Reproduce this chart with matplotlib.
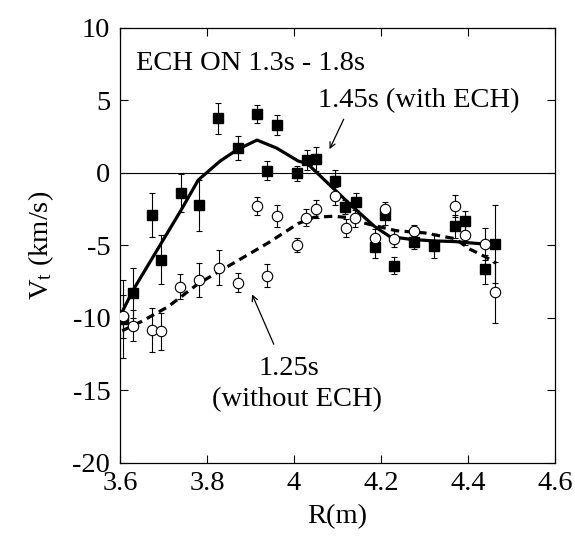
import matplotlib
matplotlib.use('Agg')
import matplotlib.pyplot as plt

plt.rcParams['font.family'] = ['Liberation Serif', 'DejaVu Serif']
plt.rcParams['mathtext.fontset'] = 'custom'
plt.rcParams['mathtext.rm'] = 'Liberation Serif'
plt.rcParams['mathtext.it'] = 'Liberation Serif:italic'
plt.rcParams['axes.unicode_minus'] = False

# 1.45s, with ECH (filled squares)
sq_r = [3.608, 3.631, 3.674, 3.695, 3.740, 3.782, 3.826, 3.872, 3.916, 3.939, 3.962, 4.006, 4.029,
        4.051, 4.095, 4.118, 4.142, 4.187, 4.210, 4.231, 4.277, 4.323, 4.369, 4.392, 4.439, 4.462]
sq_v = [-10.1, -8.3, -2.9, -6.0, -1.4, -2.25, 3.75, 1.7, 4.05, 0.15, 3.3, -0.05, 0.9,
        0.95, -0.6, -2.35, -2.0, -5.1, -2.9, -6.4, -4.8, -5.05, -3.7, -3.35, -6.65, -4.9]
sq_e = [2.7, 1.7, 1.5, 1.7, 1.3, 1.75, 1.05, 0.85, 0.6, 0.65, 0.7, 0.5, 0.7,
        0.8, 0.8, 0.5, 0.6, 0.8, 0.7, 0.6, 0.45, 0.8, 0.8, 0.7, 1.0, 2.7]

# 1.25s, without ECH (open circles)
ci_r = [3.606, 3.631, 3.673, 3.695, 3.739, 3.782, 3.828, 3.872, 3.916, 3.939, 3.962, 4.006, 4.028,
        4.050, 4.095, 4.119, 4.141, 4.187, 4.210, 4.231, 4.277, 4.369, 4.392, 4.439, 4.462]
ci_v = [-9.9, -10.55, -10.85, -10.95, -7.85, -7.4, -6.55, -7.6, -2.3, -7.1, -3.0, -5.0, -3.1,
        -2.5, -1.6, -3.8, -3.15, -4.5, -2.5, -4.55, -4.0, -2.3, -4.3, -4.9, -8.25]
ci_e = [1.5, 1.05, 1.5, 1.3, 0.85, 1.2, 1.2, 0.65, 0.65, 0.8, 0.75, 0.5, 0.6,
        0.65, 0.6, 0.6, 0.6, 0.6, 0.5, 0.6, 0.4, 0.75, 0.7, 1.1, 2.1]

# smoothed profiles
fit_on_r = [3.60, 3.63, 3.70, 3.74, 3.78, 3.83, 3.87, 3.915, 3.96, 4.01, 4.03, 4.07, 4.135,
            4.185, 4.22, 4.27, 4.32, 4.37, 4.43, 4.465]
fit_on_v = [-9.9, -8.1, -4.6, -2.6, -0.5, 0.8, 1.6, 2.25, 1.7, 0.8, 0.65, -0.5, -2.35,
            -3.7, -4.4, -4.6, -4.7, -4.75, -4.9, -5.0]
fit_off_r = [3.605, 3.65, 3.71, 3.78, 3.86, 3.94, 4.01, 4.045, 4.09, 4.12, 4.165, 4.235, 4.30,
             4.37, 4.405, 4.44, 4.465]
fit_off_v = [-10.9, -10.25, -9.25, -7.65, -6.25, -4.85, -3.5, -3.08, -3.0, -3.08, -3.5, -4.0, -4.15,
             -4.55, -5.28, -5.8, -6.25]

x_ticks = [3.6, 3.8, 4.0, 4.2, 4.4, 4.6]
x_labels = ['3.6', '3.8', '4', '4.2', '4.4', '4.6']
y_ticks = [-20, -15, -10, -5, 0, 5, 10]
y_labels = ['-20', '-15', '-10', '-5', '0', '5', '10']

fig = plt.figure(figsize=(5.75, 5.36), dpi=100)
ax = fig.add_axes([0.2087, 0.1367, 0.7565, 0.8116])

ax.axhline(0, color='black', lw=0.8, zorder=1)
ax.plot(fit_on_r, fit_on_v, color='black', lw=2.3, zorder=2)
ax.plot(fit_off_r, fit_off_v, color='black', lw=2.3, dashes=(2.6, 1.7), zorder=2)

ax.errorbar(sq_r, sq_v, yerr=sq_e, fmt='s', color='black', ms=7.5,
            capsize=2.5, elinewidth=0.8, capthick=0.8, zorder=3)
ax.errorbar(ci_r, ci_v, yerr=ci_e, fmt='o', color='black', mfc='white', mec='black',
            mew=0.8, ms=7.5, capsize=2.5, elinewidth=0.8, capthick=0.8, zorder=4)

ax.text(3.637, 7.5, 'ECH ON 1.3s - 1.8s', fontsize=20.5, va='center', ha='left')
ax.text(4.055, 4.94, '1.45s (with ECH)', fontsize=20.5, va='center', ha='left')
ax.text(3.989, -13.47, '1.25s', fontsize=20.5, va='center', ha='center')
ax.text(4.006, -15.67, '(without ECH)', fontsize=20.5, va='center', ha='center')

ax.annotate('', xy=(4.079, 1.45), xytext=(4.117, 3.86),
            arrowprops=dict(arrowstyle='->', color='black', lw=0.9))
ax.annotate('', xy=(3.901, -8.21), xytext=(3.956, -12.0),
            arrowprops=dict(arrowstyle='->', color='black', lw=0.9))

ax.set_xlim(3.6, 4.6)
ax.set_ylim(-20, 10)
ax.set_xticks(x_ticks)
ax.set_xticklabels(x_labels)
ax.set_yticks(y_ticks)
ax.set_yticklabels(y_labels)
ax.tick_params(direction='in', top=True, right=True, length=6, width=0.8, labelsize=20.5)
ax.tick_params(axis='x', pad=6)
ax.tick_params(axis='y', pad=7)
for s in ax.spines.values():
    s.set_linewidth(0.9)

ax.set_xlabel('R(m)', fontsize=20.5, labelpad=6)
ax.set_ylabel(r'V$_{\mathrm{t}}$ (km/s)', fontsize=20.5, labelpad=12)

fig.savefig('out.png', dpi=100)
